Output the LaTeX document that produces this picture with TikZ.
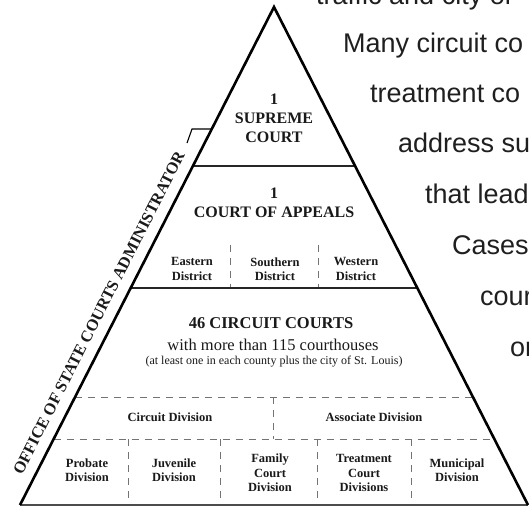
\documentclass[tikz,border=0pt]{standalone}
\usepackage{fontspec}
\setmainfont{Liberation Serif}
\newfontfamily\arialf{Liberation Sans}
\begin{document}
\begin{tikzpicture}[x=1pt,y=-1pt,
  outer/.style={line width=2.6pt,line join=miter,black},
  solidln/.style={line width=1.8pt,black!85},
  dashln/.style={line width=0.9pt,black!55,dash pattern=on 7pt off 6pt},
  thinln/.style={line width=1.1pt,black},
  head/.style={inner sep=0pt,align=center,font=\fontsize{16}{19}\selectfont\bfseries,text=black!90},
  sub/.style={inner sep=0pt,align=center,font=\fontsize{12.5}{14.5}\selectfont\bfseries,text=black!90},
  side/.style={inner sep=0pt,anchor=base west,font=\arialf\fontsize{27}{27}\selectfont,text=black!88}]
\useasboundingbox (0,0) rectangle (529,507);
\clip (0,0) rectangle (529,507);
% corners
\coordinate (A) at (274,7);
\coordinate (BL) at (20,505);
\coordinate (BR) at (528,505);
\coordinate (SL) at (192.9,166);
\coordinate (SR) at (355.1,166);
\coordinate (CL) at (130.7,288);
\coordinate (CR) at (417.3,288);
\coordinate (D1L) at (75.1,397);
\coordinate (D1R) at (472.9,397);
\coordinate (D2L) at (53.7,439);
\coordinate (D2R) at (494.3,439);
% dashed dividers
\coordinate (a1t) at (230,245); \coordinate (a1b) at (230,288);
\coordinate (a2t) at (318,245); \coordinate (a2b) at (318,288);
\coordinate (m1t) at (273,397); \coordinate (m1b) at (273,439);
\coordinate (b1t) at (128,439); \coordinate (b1b) at (128,505);
\coordinate (b2t) at (220,439); \coordinate (b2b) at (220,505);
\coordinate (b3t) at (317,439); \coordinate (b3b) at (317,505);
\coordinate (b4t) at (411,439); \coordinate (b4b) at (411,505);
\draw[dashln] (a1t) -- (a1b);
\draw[dashln] (a2t) -- (a2b);
\draw[dashln] (D1L) -- (D1R);
\draw[dashln] (D2L) -- (D2R);
\draw[dashln] (m1t) -- (m1b);
\draw[dashln] (b1t) -- (b1b);
\draw[dashln] (b2t) -- (b2b);
\draw[dashln] (b3t) -- (b3b);
\draw[dashln] (b4t) -- (b4b);
% solid dividers
\draw[solidln] (SL) -- (SR);
\draw[solidln] (CL) -- (CR);
\draw[line width=1.4pt,black!70] (BL) -- (BR);
% outer triangle
\draw[outer] (BL) -- (A) -- (BR);
% bracket
\coordinate (K0) at (211.8,129);
\coordinate (K1) at (192,129);
\coordinate (K2) at (187,143);
\draw[thinln] (K0) -- (K1) -- (K2);
\node[rotate=63,inner sep=0pt,font=\fontsize{16.3}{16.3}\selectfont\bfseries,text=black!90] (osca) at (98.9,312.9) {OFFICE OF STATE COURTS ADMINISTRATOR};
% texts
\node[head] (sup) at (274,118) {1\\SUPREME\\COURT};
\node[head] (app) at (274,203) {1\\COURT OF APPEALS};
\node[sub] (east) at (192,269) {Eastern\\District};
\node[sub] (south) at (275,269) {Southern\\District};
\node[sub] (west) at (356,269) {Western\\District};
\node[inner sep=0pt,font=\fontsize{16.5}{16.5}\selectfont\bfseries,text=black!90] (cc) at (271,323) {46 CIRCUIT COURTS};
\node[inner sep=0pt,font=\fontsize{16.5}{16.5}\selectfont,text=black!90] (cc2) at (273,345) {with more than 115 courthouses};
\node[inner sep=0pt,font=\fontsize{12}{12}\selectfont,text=black!90] (cc3) at (274,362) {(at least one in each county plus the city of St. Louis)};
\node[sub] (cdiv) at (170,417) {Circuit Division};
\node[sub] (adiv) at (374,417) {Associate Division};
\node[sub] (prob) at (87,470) {Probate\\Division};
\node[sub] (juv) at (174,470) {Juvenile\\Division};
\node[sub] (fam) at (270,473) {Family\\Court\\Division};
\node[sub] (treat) at (364,473) {Treatment\\Court\\Divisions};
\node[sub] (muni) at (457,470) {Municipal\\Division};
% side text
\node[side] (t0) at (316,4) {traffic and city or};
\node[side] (t1) at (343,52) {Many circuit co};
\node[side] (t2) at (370,102) {treatment co};
\node[side] (t3) at (398,152) {address su};
\node[side] (t4) at (425,203) {that lead};
\node[side] (t5) at (452,254) {Cases};
\node[side] (t6) at (480,305) {cour};
\node[side] (t7) at (510,356) {or};
\end{tikzpicture}
\end{document}
